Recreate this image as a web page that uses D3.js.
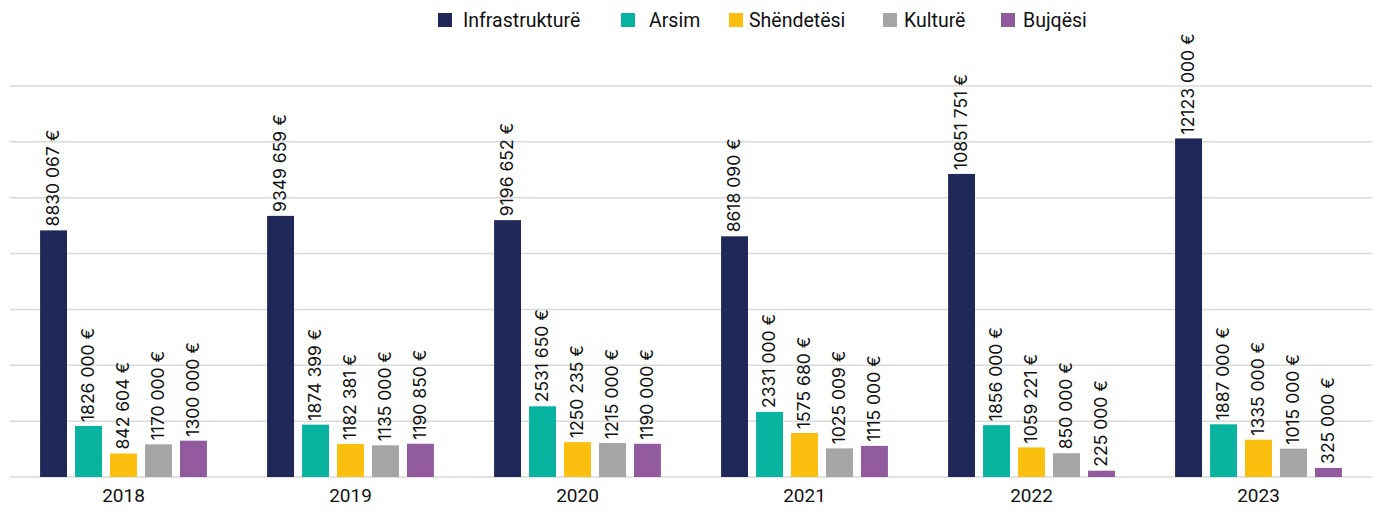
<!DOCTYPE html>
<html>
<head>
<meta charset="utf-8">
<script src="https://cdn.jsdelivr.net/npm/d3@7/dist/d3.min.js"></script>
<style>
  html, body { margin: 0; padding: 0; background: #fff; }
  svg { display: block; font-family: Roboto, "Noto Sans", sans-serif; }
</style>
</head>
<body>
<div id="chart"></div>
<script>
// Data
const years = ['2018', '2019', '2020', '2021', '2022', '2023']
const series = ['Infrastrukturë', 'Arsim', 'Shëndetësi', 'Kulturë', 'Bujqësi']
const colors = ['#1f2859', '#08b3a0', '#fbbf10', '#a5a5a5', '#915b9d']

const infrastruktureValues = [8830067, 9349659, 9196652, 8618090, 10851751, 12123000]
const arsimValues = [1826000, 1874399, 2531650, 2331000, 1856000, 1887000]
const shendetesiValues = [842604, 1182381, 1250235, 1575680, 1059221, 1335000]
const kultureValues = [1170000, 1135000, 1215000, 1025009, 850000, 1015000]
const bujqesiValues = [1300000, 1190850, 1190000, 1115000, 225000, 325000]

const gridTicks = [0, 2000000, 4000000, 6000000, 8000000, 10000000, 12000000, 14000000]

const seriesValues = [infrastruktureValues, arsimValues, shendetesiValues, kultureValues, bujqesiValues]

const width = 1377
const height = 512
const margin = { left: 10, right: 5, top: 86, bottom: 35 }

// Label format as printed in the source: "8830 067 €"
const fmtValue = v => {
  const head = Math.floor(v / 1000)
  const tail = String(v % 1000).padStart(3, '0')
  return `${head} ${tail} €`
}

const svg = d3.select('#chart')
  .append('svg')
  .attr('width', width)
  .attr('height', height)

const x0 = d3.scaleBand()
  .domain(years)
  .range([margin.left, width - margin.right])
  .paddingInner(0)

const x1 = d3.scaleBand()
  .domain(series)
  .range([0, x0.bandwidth()])
  .paddingInner(0.23)
  .paddingOuter(0.86)

const y = d3.scaleLinear()
  .domain([0, 14000000])
  .range([height - margin.bottom, margin.top])

const color = d3.scaleOrdinal().domain(series).range(colors)

// Gridlines
svg.append('g')
  .selectAll('line')
  .data(gridTicks)
  .join('line')
  .attr('x1', margin.left)
  .attr('x2', width - margin.right)
  .attr('y1', d => y(d))
  .attr('y2', d => y(d))
  .attr('stroke', '#d9d9d9')
  .attr('stroke-width', 1.5)

// Flat table for the bars
const rows = []
years.forEach((yr, i) => {
  series.forEach((s, j) => {
    rows.push({ year: yr, series: s, value: seriesValues[j][i] })
  })
})

const barG = svg.append('g')

barG.selectAll('rect')
  .data(rows)
  .join('rect')
  .attr('x', d => x0(d.year) + x1(d.series))
  .attr('y', d => y(d.value))
  .attr('width', x1.bandwidth())
  .attr('height', d => y(0) - y(d.value))
  .attr('fill', d => color(d.series))

// Rotated value labels above each bar
barG.selectAll('text')
  .data(rows)
  .join('text')
  .attr('transform', d => `translate(${x0(d.year) + x1(d.series) + x1.bandwidth() / 2}, ${y(d.value) - 4}) rotate(-90)`)
  .attr('dy', '0.3em')
  .attr('text-anchor', 'start')
  .attr('font-family', 'Inter, sans-serif')
  .attr('font-size', '17.5px')
  .attr('fill', '#111')
  .text(d => fmtValue(d.value))

// Year axis
const xAxis = svg.append('g')
  .attr('transform', `translate(0, ${y(0)})`)
  .call(d3.axisBottom(x0).tickSize(0).tickPadding(12))

xAxis.select('.domain').remove()
xAxis.selectAll('text')
  .attr('font-size', '19px')
  .attr('font-family', 'Roboto, sans-serif')
  .attr('fill', '#111')

// Legend
const legendX = [438, 621, 729, 883, 1001]
const legendTextGap = [25, 28, 20, 21, 22]

const legend = svg.append('g')
  .selectAll('g')
  .data(series)
  .join('g')
  .attr('transform', (d, i) => `translate(${legendX[i]}, 13)`)

legend.append('rect')
  .attr('width', 14)
  .attr('height', 14)
  .attr('fill', d => color(d))

legend.append('text')
  .attr('x', (d, i) => legendTextGap[i])
  .attr('y', 7)
  .attr('dy', '0.35em')
  .attr('font-size', '19.5px')
  .attr('fill', '#111')
  .text(d => d)
</script>
</body>
</html>
